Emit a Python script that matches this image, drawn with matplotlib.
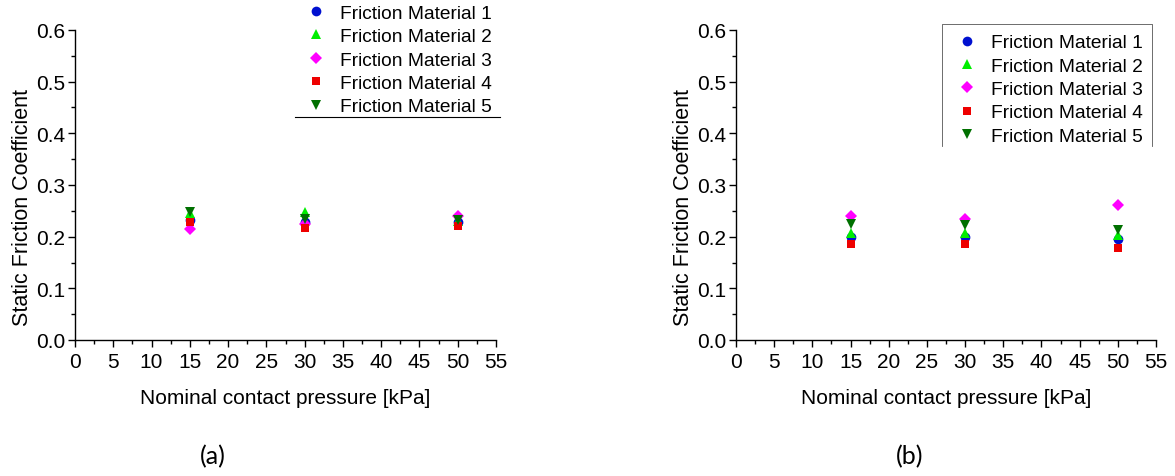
import matplotlib
matplotlib.use("Agg")
import matplotlib.pyplot as plt
from matplotlib.ticker import MultipleLocator, FormatStrFormatter
from matplotlib.lines import Line2D

pressure = [15, 30, 50]
labels = ["Friction Material 1", "Friction Material 2", "Friction Material 3",
          "Friction Material 4", "Friction Material 5"]

# panel (a)
a_fm1 = [0.232, 0.228, 0.228]
a_fm2 = [0.245, 0.248, 0.230]
a_fm3 = [0.215, 0.225, 0.240]
a_fm4 = [0.228, 0.216, 0.221]
a_fm5 = [0.248, 0.234, 0.233]

# panel (b)
b_fm1 = [0.199, 0.200, 0.196]
b_fm2 = [0.208, 0.208, 0.203]
b_fm3 = [0.240, 0.235, 0.261]
b_fm4 = [0.186, 0.186, 0.178]
b_fm5 = [0.225, 0.223, 0.212]

markers = ["o", "^", "D", "s", "v"]
colors = ["#0010d0", "#00ee00", "#ff00ff", "#ee0000", "#007000"]
sizes = [7, 7.5, 6, 6, 7.5]

plt.rcParams['font.family'] = ['Liberation Sans', 'DejaVu Sans']

fig = plt.figure(figsize=(11.75, 4.77), dpi=100)
axa = fig.add_axes([75/1175, 1-341/477, 421/1175, 310/477])
axb = fig.add_axes([736/1175, 1-341/477, 420/1175, 310/477])

def draw(ax, series, legpos):
    for vals, m, c, ms, lab in zip(series, markers, colors, sizes, labels):
        ax.plot(pressure, vals, linestyle="none", marker=m, color=c,
                markersize=ms, markeredgewidth=0, label=lab, clip_on=False)
    ax.set_xlim(0, 55)
    ax.set_ylim(0, 0.6)
    ax.xaxis.set_major_locator(MultipleLocator(5))
    ax.xaxis.set_minor_locator(MultipleLocator(2.5))
    ax.yaxis.set_major_locator(MultipleLocator(0.1))
    ax.yaxis.set_minor_locator(MultipleLocator(0.05))
    ax.yaxis.set_major_formatter(FormatStrFormatter('%.1f'))
    for s in ["top", "right"]:
        ax.spines[s].set_visible(False)
    for s in ["left", "bottom"]:
        ax.spines[s].set_linewidth(1.0)
    ax.tick_params(which="major", direction="out", length=5, width=1,
                   labelsize=15, pad=2)
    ax.tick_params(axis="x", which="major", pad=4)
    ax.tick_params(which="minor", direction="out", length=3, width=1)
    ax.set_xlabel("Nominal contact pressure [kPa]", fontsize=15, labelpad=12)
    ax.set_ylabel("Static Friction Coefficient", fontsize=15.5)
    ax.yaxis.set_label_coords(-0.099, 0.43)
    leg = ax.legend(loc="upper left", bbox_to_anchor=legpos, frameon=False,
                    fontsize=13.8, handlelength=1.0, handletextpad=0.75,
                    labelspacing=0.31, borderpad=0.2, borderaxespad=0)
    return leg

draw(axa, [a_fm1, a_fm2, a_fm3, a_fm4, a_fm5], (0.541, 1.095))
draw(axb, [b_fm1, b_fm2, b_fm3, b_fm4, b_fm5], (0.519, 1.0))

# partial legend frames
fig.add_artist(Line2D([295/1175, 500/1175], [1-118/477, 1-118/477],
                      color="black", lw=0.8))
fig.add_artist(Line2D([942/1175, 942/1175, 1152/1175, 1152/1175],
                      [1-147/477, 1-25/477, 1-25/477, 1-147/477],
                      color="#555555", lw=0.6))

fig.text(213/1175, 1-457/477, "(a)", fontsize=18, family=["Lato", "DejaVu Sans"],
         ha="center", va="center")
fig.text(910/1175, 1-457/477, "(b)", fontsize=18, family=["Lato", "DejaVu Sans"],
         ha="center", va="center")

fig.savefig("out.png", dpi=100, facecolor="white")
